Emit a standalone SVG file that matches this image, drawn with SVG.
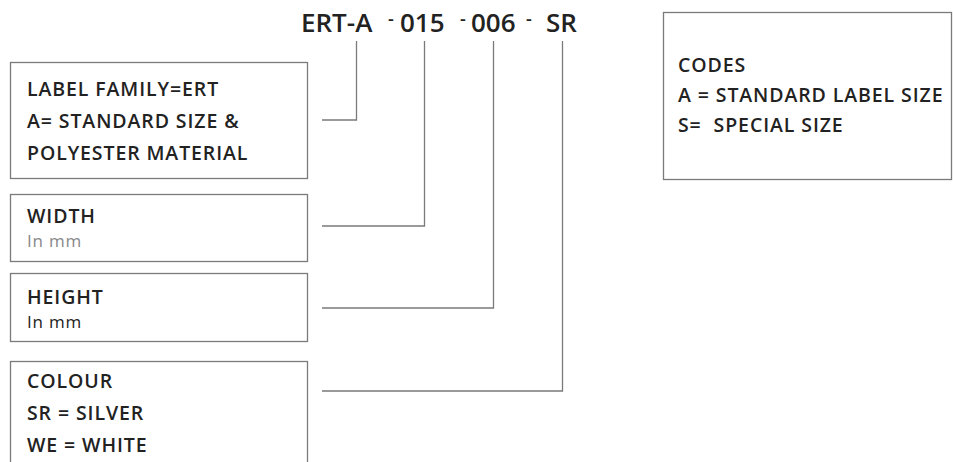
<svg xmlns="http://www.w3.org/2000/svg" width="953" height="462" viewBox="0 0 953 462">
<style>
.box{fill:#fff;stroke:#7a7a7a;stroke-width:1.3}
.t{font-family:"Open Sans","Noto Sans",sans-serif;font-weight:600;font-size:19.5px;letter-spacing:0.9px;fill:#222;white-space:pre}
.sub{font-family:"Open Sans","Noto Sans",sans-serif;font-weight:400;font-size:17px;letter-spacing:0.8px}
.title{font-family:"Open Sans","Noto Sans",sans-serif;font-weight:600;font-size:26px;fill:#222}
.dash{font-family:"Open Sans","Noto Sans",sans-serif;font-weight:600;font-size:18px;fill:#222}
.c{fill:none;stroke:#7a7a7a;stroke-width:1.3}
</style>
<rect width="953" height="462" fill="#fff"/>
<g id="title">
<text class="title" x="301" y="32">ERT-A</text>
<text class="dash" x="388" y="25">-</text>
<text class="title" x="400" y="32">015</text>
<text class="dash" x="460" y="25">-</text>
<text class="title" x="471" y="32">006</text>
<text class="dash" x="526" y="25">-</text>
<text class="title" x="546" y="32">SR</text>
</g>
<g id="connectors">
<polyline class="c" points="322,120 356.5,120 356.5,41"/>
<polyline class="c" points="322,226 424.5,226 424.5,41"/>
<polyline class="c" points="322,308 493.5,308 493.5,41"/>
<polyline class="c" points="322,391 562.5,391 562.5,41"/>
</g>
<g id="family">
<rect class="box" x="10.5" y="62.5" width="297" height="116"/>
<text class="t" x="27" y="96">LABEL FAMILY=ERT</text>
<text class="t" x="27" y="128">A= STANDARD SIZE &amp;</text>
<text class="t" x="27" y="160">POLYESTER MATERIAL</text>
</g>
<g id="width">
<rect class="box" x="10.5" y="194.5" width="297" height="67"/>
<text class="t" x="27" y="223">WIDTH</text>
<text class="sub" x="27" y="247" fill="#888">In mm</text>
</g>
<g id="height">
<rect class="box" x="10.5" y="273.5" width="297" height="68"/>
<text class="t" x="27" y="304">HEIGHT</text>
<text class="sub" x="27" y="328" fill="#222">In mm</text>
</g>
<g id="colour">
<rect class="box" x="10.5" y="361.5" width="297" height="110"/>
<text class="t" x="27" y="388">COLOUR</text>
<text class="t" x="27" y="420">SR = SILVER</text>
<text class="t" x="27" y="452">WE = WHITE</text>
</g>
<g id="codes">
<rect class="box" x="663.5" y="12.5" width="288" height="167"/>
<text class="t" x="678" y="72">CODES</text>
<text class="t" x="678" y="102">A = STANDARD LABEL SIZE</text>
<text class="t" x="678" y="132">S=  SPECIAL SIZE</text>
</g>
</svg>
